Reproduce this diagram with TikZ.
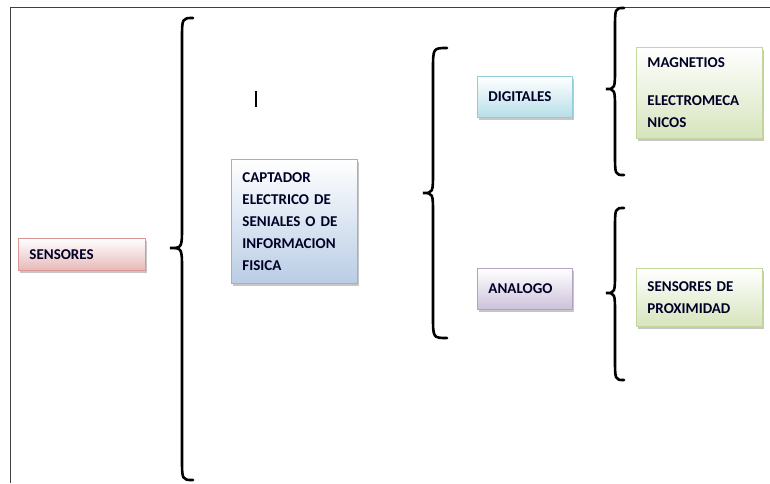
\documentclass[tikz,border=0pt]{standalone}
\usepackage{fontspec}
\setmainfont{Carlito}
\usetikzlibrary{shadows}
\definecolor{rosaF}{HTML}{E6B9B8}\definecolor{rosaL}{HTML}{D99694}
\definecolor{azulF}{HTML}{B9CDE5}\definecolor{azulL}{HTML}{95B3D7}
\definecolor{aguaF}{HTML}{B7DEE8}\definecolor{aguaL}{HTML}{93CDDD}
\definecolor{liliF}{HTML}{CCC1DA}\definecolor{liliL}{HTML}{B3A2C7}
\definecolor{verdeF}{HTML}{D7E4BD}\definecolor{verdeL}{HTML}{C3D69B}
\definecolor{marcoC}{HTML}{404040}
\tikzset{
  cuadro/.style 2 args={draw=#2, line width=0.9pt, top color=white, bottom color=#1,
    anchor=north west, inner xsep=11pt, inner ysep=0pt, align=left,
    font=\bfseries\fontsize{15}{22}\selectfont, text=black!85!blue,
    drop shadow={shadow xshift=2pt, shadow yshift=-3pt, opacity=.45}},
  llave/.style={line width=2.6pt, line cap=round},
  marco/.style={line width=0.8pt, marcoC}
}
% llave: #1 x extremo, #2 x lomo, #3 x punta, #4 y arriba, #5 y punta, #6 y abajo
\newcommand{\llave}[6]{%
  \draw[llave] (#1,#4) .. controls (#2,#4) .. (#2,#4+22) -- (#2,#5-22)
    .. controls (#2,#5) .. (#3,#5) .. controls (#2,#5) .. (#2,#5+22)
    -- (#2,#6-22) .. controls (#2,#6) .. (#1,#6);}
\begin{document}
\begin{tikzpicture}[x=1pt, y=-1pt]
  \useasboundingbox (0,0) rectangle (770,483);
  % marco de la pagina
  \draw[marco] (770,7) -- (10,7) -- (10,483);
  % cuadros
  \node[cuadro={rosaF}{rosaL}, minimum width=127pt, text width=105pt, minimum height=32pt]
    (sensores) at (18,238) {SENSORES};
  \node[cuadro={azulF}{azulL}, minimum width=126pt, text width=104pt, minimum height=124pt]
    (captador) at (231,159) {CAPTADOR\\ELECTRICO DE\\SENIALES O DE\\INFORMACION\\FISICA};
  \node[cuadro={aguaF}{aguaL}, minimum width=95pt, text width=73pt, minimum height=41pt]
    (digitales) at (477,76) {DIGITALES};
  \node[cuadro={liliF}{liliL}, minimum width=95pt, text width=73pt, minimum height=41pt]
    (analogo) at (477,268) {ANALOGO};
  \node[cuadro={verdeF}{verdeL}, minimum width=126pt, text width=104pt, minimum height=91pt]
    (magnetios) at (636,47) {MAGNETIOS\\[16pt]ELECTROMECA\\NICOS};
  \node[cuadro={verdeF}{verdeL}, minimum width=126pt, text width=104pt, minimum height=58pt]
    (proximidad) at (636,268) {SENSORES DE\\PROXIMIDAD};
  % llaves
  \llave{193}{182}{170}{18}{248}{480}
  \llave{447}{433}{423}{48}{193}{338}
  \llave{624}{615}{606}{8}{89}{175}
  \llave{624}{615}{606}{208}{293}{380}
  % cursor
  \draw[line width=1.6pt] (256,91) -- (256,107);
\end{tikzpicture}
\end{document}
